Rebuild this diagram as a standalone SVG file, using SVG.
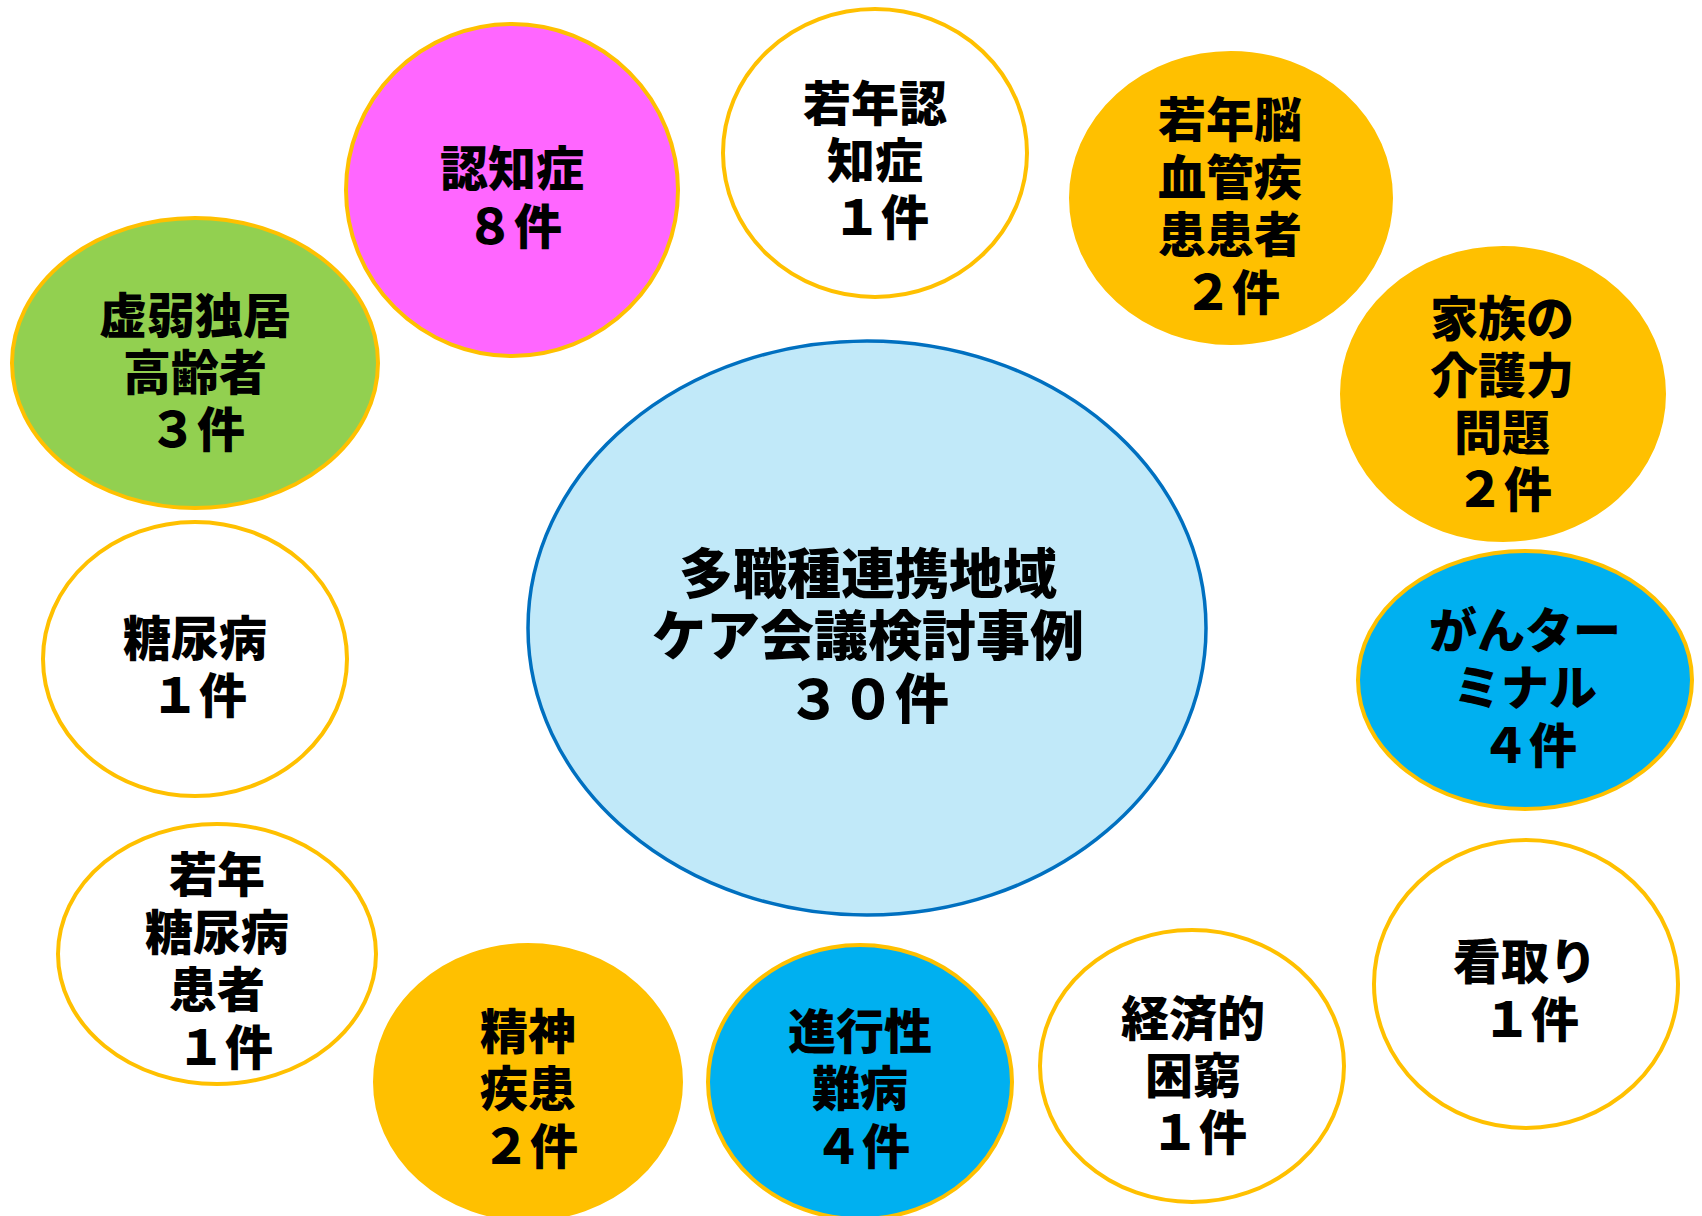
<svg xmlns="http://www.w3.org/2000/svg" width="1702" height="1216" viewBox="0 0 1702 1216">
<style>
.n{stroke:#FFC000;stroke-width:4}
.w{fill:#FFFFFF}
.o{fill:#FFC000}
.b{fill:#00B0F0}
.t{font-family:"Noto Sans CJK JP","Noto Sans CJK SC",sans-serif;font-weight:900;font-size:48px;fill:#000;text-anchor:middle;dominant-baseline:central}
.c{font-size:54px}
</style>
<rect width="1702" height="1216" fill="#FFFFFF"/>
<g id="connectors"></g>
<g id="center">
<ellipse cx="867" cy="628" rx="339" ry="287" fill="#C1E9F9" stroke="#0070C0" stroke-width="3.5"/>
<text class="t c"><tspan x="868" y="570">多職種連携地域</tspan><tspan x="868" y="632">ケア会議検討事例</tspan><tspan x="868" y="695">３０件</tspan></text>
</g>
<g id="ninchisho">
<ellipse class="n" cx="512" cy="190" rx="166" ry="166" fill="#FF66FF"/>
<text class="t"><tspan x="512" y="165">認知症</tspan><tspan x="514" y="223">８件</tspan></text>
</g>
<g id="jakunen-ninchisho">
<ellipse class="n w" cx="875" cy="153" rx="152" ry="144"/>
<text class="t"><tspan x="875" y="100">若年認</tspan><tspan x="875" y="157">知症</tspan><tspan x="881" y="214">１件</tspan></text>
</g>
<g id="jakunen-noukekkan">
<ellipse class="n o" cx="1231" cy="198" rx="160" ry="145"/>
<text class="t"><tspan x="1230" y="116">若年脳</tspan><tspan x="1230" y="174">血管疾</tspan><tspan x="1230" y="231">患患者</tspan><tspan x="1232" y="289">２件</tspan></text>
</g>
<g id="kazoku">
<ellipse class="n o" cx="1503" cy="394" rx="161" ry="146"/>
<text class="t"><tspan x="1502" y="315">家族の</tspan><tspan x="1502" y="372">介護力</tspan><tspan x="1502" y="429">問題</tspan><tspan x="1504" y="486">２件</tspan></text>
</g>
<g id="kyojaku">
<ellipse class="n" cx="195" cy="363" rx="183" ry="145" fill="#92D050"/>
<text class="t"><tspan x="195" y="312">虚弱独居</tspan><tspan x="195" y="369">高齢者</tspan><tspan x="197" y="426">３件</tspan></text>
</g>
<g id="tounyoubyou">
<ellipse class="n w" cx="195" cy="659" rx="152" ry="137"/>
<text class="t"><tspan x="195" y="635">糖尿病</tspan><tspan x="199" y="692">１件</tspan></text>
</g>
<g id="jakunen-tounyoubyou">
<ellipse class="n w" cx="217" cy="954" rx="159" ry="130"/>
<text class="t"><tspan x="217" y="871">若年</tspan><tspan x="217" y="929">糖尿病</tspan><tspan x="217" y="986">患者</tspan><tspan x="225" y="1044">１件</tspan></text>
</g>
<g id="seishin">
<ellipse class="n o" cx="528" cy="1082" rx="153" ry="137"/>
<text class="t"><tspan x="528" y="1028">精神</tspan><tspan x="528" y="1085">疾患</tspan><tspan x="530" y="1143">２件</tspan></text>
</g>
<g id="shinkousei">
<ellipse class="n b" cx="860" cy="1082" rx="152" ry="137"/>
<text class="t"><tspan x="860" y="1028">進行性</tspan><tspan x="860" y="1085">難病</tspan><tspan x="862" y="1143">４件</tspan></text>
</g>
<g id="keizai">
<ellipse class="n w" cx="1192" cy="1066" rx="152" ry="136"/>
<text class="t"><tspan x="1193" y="1015">経済的</tspan><tspan x="1193" y="1072">困窮</tspan><tspan x="1199" y="1129">１件</tspan></text>
</g>
<g id="mitori">
<ellipse class="n w" cx="1526" cy="984" rx="152" ry="144"/>
<text class="t"><tspan x="1525" y="958">看取り</tspan><tspan x="1531" y="1016">１件</tspan></text>
</g>
<g id="gan">
<ellipse class="n b" cx="1525" cy="680" rx="167" ry="129"/>
<text class="t"><tspan x="1525" y="627">がんター</tspan><tspan x="1525" y="684">ミナル</tspan><tspan x="1529" y="742">４件</tspan></text>
</g>
</svg>
